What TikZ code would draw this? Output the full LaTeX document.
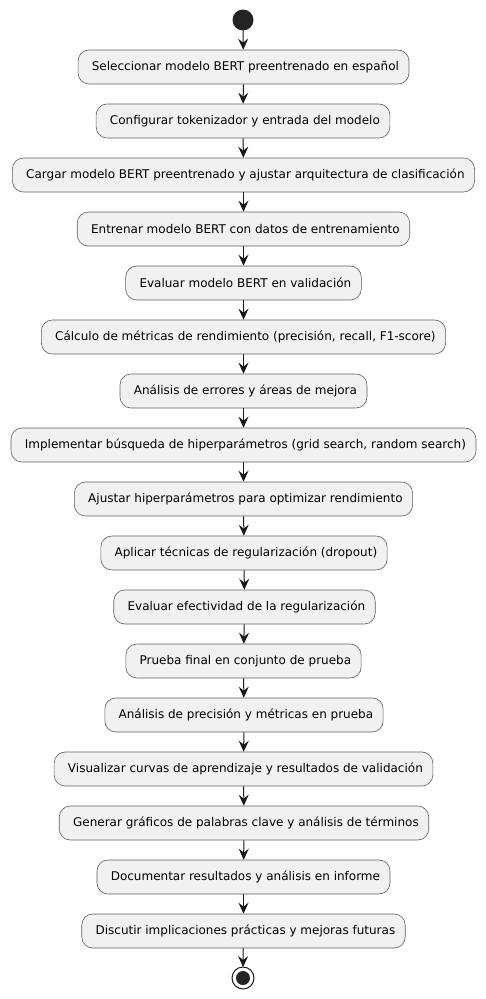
\documentclass[tikz,border=0pt]{standalone}
\usepackage{fontspec}
\setmainfont{DejaVu Sans}
\usetikzlibrary{arrows.meta}
\definecolor{boxfill}{HTML}{F1F1F1}
\definecolor{boxline}{HTML}{5E5E5E}
\definecolor{ink}{HTML}{181818}
\tikzset{
	actbox/.style={draw=boxline, line width=0.6pt, fill=boxfill, rounded corners=11pt, minimum height=34pt, inner xsep=10pt, inner ysep=0pt, font=\fontsize{12}{14}\selectfont, text=black, execute at begin node={\ }},
	flow/.style={draw=ink, line width=1pt, -{Stealth[length=11pt, width=10pt, inset=4pt]}}
}
\begin{document}
\begin{tikzpicture}[x=1pt, y=-1pt]
			%%%%% START %%%%%
			
			\useasboundingbox (0, 0) rectangle (486, 999);
			
			\fill[color=ink!95] (243, 20) circle (10.5);
			\coordinate (start) at (243, 30.5);
			
			\node[actbox] (a1) at (243.5, 67) {Seleccionar modelo BERT preentrenado en español};
			\node[actbox] (a2) at (243, 121) {Configurar tokenizador y entrada del modelo};
			\node[actbox] (a3) at (243.5, 175) {Cargar modelo BERT preentrenado y ajustar arquitectura de clasificación};
			\node[actbox] (a4) at (243.5, 229) {Entrenar modelo BERT con datos de entrenamiento};
			\node[actbox] (a5) at (243.5, 283) {Evaluar modelo BERT en validación};
			\node[actbox] (a6) at (243.5, 337) {Cálculo de métricas de rendimiento (precisión, recall, F1-score)};
			\node[actbox] (a7) at (243.5, 391) {Análisis de errores y áreas de mejora};
			\node[actbox] (a8) at (243.5, 445) {Implementar búsqueda de hiperparámetros (grid search, random search)};
			\node[actbox] (a9) at (243.5, 499) {Ajustar hiperparámetros para optimizar rendimiento};
			\node[actbox] (a10) at (244, 553) {Aplicar técnicas de regularización (dropout)};
			\node[actbox] (a11) at (244.5, 607) {Evaluar efectividad de la regularización};
			\node[actbox] (a12) at (243.5, 661) {Prueba final en conjunto de prueba};
			\node[actbox] (a13) at (244, 715) {Análisis de precisión y métricas en prueba};
			\node[actbox] (a14) at (243.5, 769) {Visualizar curvas de aprendizaje y resultados de validación};
			\node[actbox] (a15) at (244, 823) {Generar gráficos de palabras clave y análisis de términos};
			\node[actbox] (a16) at (243.5, 877) {Documentar resultados y análisis en informe};
			\node[actbox] (a17) at (243.5, 931) {Discutir implicaciones prácticas y mejoras futuras};
			
			\draw[color=ink, line width=1pt, fill=white] (243, 978) circle (11);
			\fill[color=ink!95] (243, 978) circle (7);
			\coordinate (stop) at (243, 967);
			
			\draw[flow] (start) -- (a1);
			\draw[flow] (a1) -- (a2);
			\draw[flow] (a2) -- (a3);
			\draw[flow] (a3) -- (a4);
			\draw[flow] (a4) -- (a5);
			\draw[flow] (a5) -- (a6);
			\draw[flow] (a6) -- (a7);
			\draw[flow] (a7) -- (a8);
			\draw[flow] (a8) -- (a9);
			\draw[flow] (a9) -- (a10);
			\draw[flow] (a10) -- (a11);
			\draw[flow] (a11) -- (a12);
			\draw[flow] (a12) -- (a13);
			\draw[flow] (a13) -- (a14);
			\draw[flow] (a14) -- (a15);
			\draw[flow] (a15) -- (a16);
			\draw[flow] (a16) -- (a17);
			\draw[flow] (a17) -- (stop);
			
			%%%%% END %%%%%
\end{tikzpicture}
\end{document}
